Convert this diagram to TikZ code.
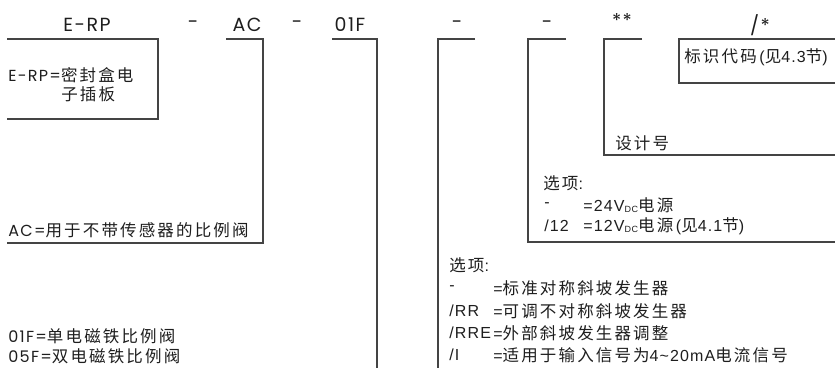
\documentclass[tikz,border=0pt]{standalone}
\usepackage{fontspec}
\setmainfont{Liberation Sans}[LetterSpace=7]
\newfontfamily\geo{Poppins}[LetterSpace=8]
\newfontfamily\cjk{Noto Sans CJK SC}[LetterSpace=13]
\newcommand{\zh}[1]{{\cjk\fontsize{16.5}{16.5}\selectfont #1}}
\newcommand{\dcsub}{{\fontsize{9}{9}\selectfont\raisebox{-1.5pt}{DC}}}

\definecolor{linegray}{RGB}{68,68,68}
\definecolor{txtgray}{RGB}{30,30,30}

\tikzset{every picture/.style={line width=1.2pt}}
\tikzset{
  head/.style={anchor=center, inner sep=0.75pt, text=txtgray, font=\geo\fontsize{19}{19}\selectfont},
  lbl/.style={anchor=west, inner sep=0.75pt, text=txtgray, font=\fontsize{16}{16}\selectfont},
  geolbl/.style={lbl, font=\geo\fontsize{16}{16}\selectfont},
  bracket/.style={draw=linegray}
}

\begin{document}
\begin{tikzpicture}[x=1pt,y=1pt,yscale=-1,xscale=1]
\path[use as bounding box] (0,0) rectangle (835,368);

% Header codes
\node[head] (hERP) at (87,25) {E-RP};
\node[head] (hDashA) at (193,25) {-};
\node[head] (hAC) at (247,25) {AC};
\node[head] (hDashB) at (297,25) {-};
\node[head] (hF) at (350,25) {01F};
\node[head] (hDashC) at (457,25) {-};
\node[head] (hDashD) at (547,25) {-};
\node[head] (hStar) at (622,21) {**};
\node[head] (hCode) at (760,25) {/*};

% Brackets
\draw[bracket] (7,39) -- (158,39) -- (158,119) -- (7,119);
\draw[bracket] (226,39) -- (263,39) -- (263,243) -- (7,243);
\draw[bracket] (332,39) -- (377,39) -- (377,368);
\draw[bracket] (475,39) -- (438,39) -- (438,368);
\draw[bracket] (566,39) -- (528,39) -- (528,242) -- (835,242);
\draw[bracket] (642,39) -- (604,39) -- (604,155) -- (835,155);
\draw[bracket] (835,39) -- (679,39) -- (679,83) -- (835,83);

% Text Node
\node[geolbl] (tERP) at (7,75) {E-RP=\zh{密封盒电}};
\node[lbl] (tERPb) at (60,94) {\zh{子插板}};
% Text Node
\node[geolbl] (tAC) at (7,230) {AC=\zh{用于不带传感器的比例阀}};
% Text Node
\node[geolbl] (tF1) at (7,336) {01F=\zh{单电磁铁比例阀}};
\node[geolbl] (tF5) at (7,356) {05F=\zh{双电磁铁比例阀}};
% Text Node
\node[lbl] (tCode) at (683,57) {\zh{标识代码}\,(\zh{见}4.3\zh{节})};
% Text Node
\node[lbl] (tDesign) at (614,143) {\zh{设计号}};
% Text Node
\node[lbl] (tOptA) at (542,183) {\zh{选项}:};
\node[lbl] (kPwrA) at (543,205) {-};
\node[lbl] (vPwrA) at (582,205) {=24V\dcsub\zh{电源}};
\node[lbl] (kPwrB) at (543,226) {/12};
\node[lbl] (vPwrB) at (582,226) {=12V\dcsub\zh{电源}\,(\zh{见}4.1\zh{节})};
% Text Node
\node[lbl] (tOptB) at (448,265) {\zh{选项}:};
\node[lbl] (kRampA) at (448,288) {-};
\node[lbl] (vRampA) at (492,288) {=\zh{标准对称斜坡发生器}};
\node[lbl] (kRampB) at (448,311) {/RR};
\node[lbl] (vRampB) at (492,311) {=\zh{可调不对称斜坡发生器}};
\node[lbl] (kRampC) at (448,333) {/RRE};
\node[lbl] (vRampC) at (492,333) {=\zh{外部斜坡发生器调整}};
\node[lbl] (kRampD) at (448,355) {/I};
\node[lbl] (vRampD) at (492,355) {=\zh{适用于输入信号为}4\textasciitilde 20mA\zh{电流信号}};
\end{tikzpicture}
\end{document}
